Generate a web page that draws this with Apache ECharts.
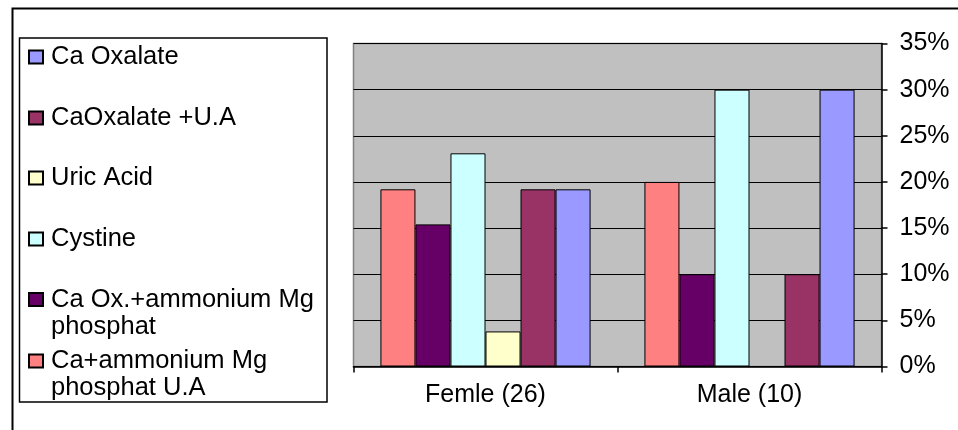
<!DOCTYPE html>
<html>
<head>
<meta charset="utf-8">
<script src="https://cdn.jsdelivr.net/npm/echarts@6/dist/echarts.min.js"></script>
<style>
html,body{margin:0;padding:0;background:#fff;}
#chart{width:958px;height:430px;}
</style>
</head>
<body>
<div id="chart"></div>
<script>
var categories = ['Femle (26)', 'Male (10)'];
var seriesNames = ['Ca+ammonium Mg phosphat U.A', 'Ca Ox.+ammonium Mg phosphat', 'Cystine', 'Uric Acid', 'CaOxalate +U.A', 'Ca Oxalate'];
var caAmmonium = [19.2, 20];
var caOxAmmonium = [15.4, 10];
var cystine = [23.1, 30];
var uricAcid = [3.8, 0];
var caOxalateUA = [19.2, 10];
var caOxalate = [19.2, 30];
var yTicks = [0, 5, 10, 15, 20, 25, 30, 35];
var colors = ['#FF8080', '#660066', '#CCFFFF', '#FFFFCC', '#993366', '#9999FF'];
var legendOrder = ['Ca Oxalate', 'CaOxalate +U.A', 'Uric Acid', 'Cystine', 'Ca Ox.+ammonium Mg phosphat', 'Ca+ammonium Mg phosphat U.A'];
var legendLabels = {
  'Ca Ox.+ammonium Mg phosphat': '\nCa Ox.+ammonium Mg\nphosphat',
  'Ca+ammonium Mg phosphat U.A': '\nCa+ammonium Mg\nphosphat U.A'
};

var FONT = "'Liberation Sans', Arial, sans-serif";
var values = [caAmmonium, caOxAmmonium, cystine, uricAcid, caOxalateUA, caOxalate];

var chart = echarts.init(document.getElementById('chart'), null, {renderer: 'canvas'});

var series = seriesNames.map(function (n, i) {
  return {
    name: n,
    type: 'bar',
    data: values[i],
    barGap: 0,
    barCategoryGap: '20.4%',
    itemStyle: {color: colors[i], borderColor: '#000', borderWidth: 1},
    emphasis: {disabled: true}
  };
});

var iconCenters = [57, 118, 178, 239, 299.5, 361];
var LH = 27;
var legends = legendOrder.map(function (n, i) {
  var multi = !!legendLabels[n];
  var h = multi ? LH * 3 : LH;
  return {
    orient: 'vertical',
    left: 28,
    top: iconCenters[i] - h / 2,
    padding: 0,
    itemWidth: 14,
    itemHeight: 13,
    icon: 'rect',
    selectedMode: false,
    data: [n],
    formatter: function (name) { return legendLabels[name] || name; },
    textStyle: {fontFamily: FONT, fontSize: 25.5, color: '#000', lineHeight: LH, padding: [0, 0, 0, 3]}
  };
});

chart.setOption({
  animation: false,
  backgroundColor: '#fff',
  textStyle: {fontFamily: FONT},
  graphic: [
    {type: 'rect', shape: {x: 12.5, y: 8.5, width: 1000, height: 500}, style: {fill: 'none', stroke: '#000', lineWidth: 2}, z: 0},
    {type: 'rect', shape: {x: 19.5, y: 38, width: 307.5, height: 364}, style: {fill: 'none', stroke: '#000', lineWidth: 1.5}, z: 0}
  ],
  legend: legends,
  grid: {
    left: 353.5, right: 76.5, top: 43.5, bottom: 63.5,
    show: true, backgroundColor: '#C0C0C0', borderColor: '#808080', borderWidth: 1.5,
    containLabel: false
  },
  xAxis: {
    type: 'category',
    data: categories,
    axisLine: {lineStyle: {color: '#000', width: 1.5}},
    axisTick: {show: true, length: 6, lineStyle: {color: '#000', width: 1.5}},
    axisLabel: {fontFamily: FONT, fontSize: 25, color: '#000', margin: 16},
    splitLine: {show: false}
  },
  yAxis: {
    type: 'value',
    position: 'right',
    min: yTicks[0],
    max: yTicks[yTicks.length - 1],
    interval: 5,
    axisLine: {show: true, lineStyle: {color: '#000', width: 1.5}},
    axisTick: {show: true, length: 6, lineStyle: {color: '#000', width: 1.5}},
    axisLabel: {fontFamily: FONT, fontSize: 25, color: '#000', margin: 18, formatter: '{value}%'},
    splitLine: {show: true, lineStyle: {color: '#000', width: 1.2}}
  },
  series: series
});
</script>
</body>
</html>
